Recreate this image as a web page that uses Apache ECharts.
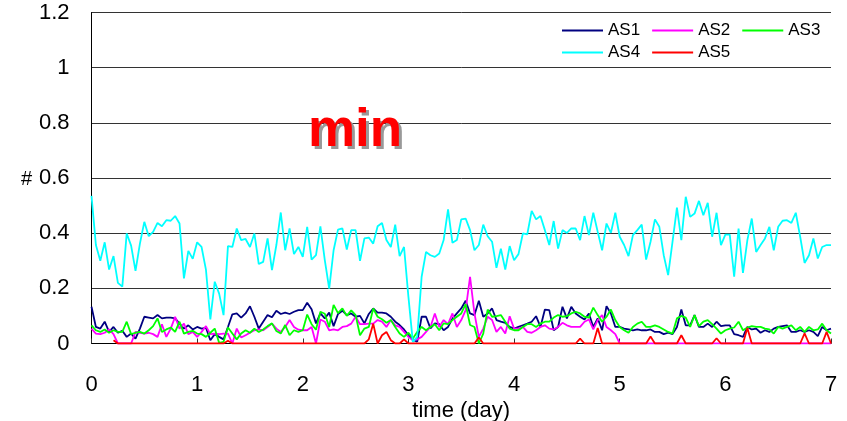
<!DOCTYPE html>
<html>
<head>
<meta charset="utf-8">
<script src="https://cdn.jsdelivr.net/npm/echarts@6/dist/echarts.min.js"></script>
<style>
html,body{margin:0;padding:0;background:#fff;}
#chart{width:847px;height:421px;}
</style>
</head>
<body>
<div id="chart"></div>
<script>
// hourly samples over 7 days (index = hour)
const HOURS_PER_DAY = 24;
const xTicks = [0, 1, 2, 3, 4, 5, 6, 7];
const yTicks = [0, 0.2, 0.4, 0.6, 0.8, 1, 1.2];
const seriesNames = ['AS1', 'AS2', 'AS3', 'AS4', 'AS5'];

const AS1 = [
0.133,0.060,0.054,0.079,0.042,0.060,0.039,0.046,0.024,0.036,
0.018,0.054,0.097,0.094,0.091,0.103,0.091,0.094,0.094,0.091,
0.072,0.054,0.066,0.051,0.060,0.054,0.057,0.012,0.034,0.024,
0.015,0.060,0.106,0.109,0.094,0.109,0.135,0.097,0.054,0.079,
0.103,0.095,0.119,0.107,0.112,0.107,0.115,0.121,0.121,0.148,
0.124,0.073,0.109,0.091,0.112,0.063,0.107,0.119,0.103,0.109,
0.097,0.100,0.073,0.107,0.127,0.112,0.112,0.109,0.097,0.079,
0.067,0.051,0.030,0.013,0.007,0.097,0.097,0.055,0.073,0.070,
0.048,0.060,0.090,0.109,0.127,0.155,0.109,0.103,0.155,0.097,
0.109,0.127,0.085,0.079,0.075,0.060,0.054,0.060,0.066,0.072,
0.079,0.099,0.060,0.123,0.121,0.048,0.060,0.133,0.091,0.133,
0.109,0.097,0.087,0.109,0.060,0.091,0.048,0.135,0.109,0.060,
0.060,0.054,0.051,0.048,0.051,0.048,0.048,0.051,0.042,0.042,
0.034,0.039,0.034,0.060,0.123,0.066,0.066,0.103,0.060,0.060,
0.072,0.060,0.079,0.063,0.066,0.066,0.034,0.030,0.024,0.060,
0.051,0.054,0.039,0.048,0.042,0.054,0.060,0.063,0.066,0.042,
0.042,0.048,0.042,0.048,0.042,0.027,0.060,0.048,0.054
];

const AS2 = [
0.054,0.036,0.034,0.039,0.051,0.034,0.000,0.000,0.000,0.000,
0.042,0.039,0.036,0.039,0.034,0.024,0.070,0.024,0.054,0.097,
0.054,0.072,0.034,0.042,0.024,0.042,0.063,0.034,0.036,0.034,
0.036,0.036,0.000,0.054,0.022,0.030,0.039,0.048,0.051,0.048,
0.060,0.072,0.054,0.042,0.060,0.085,0.060,0.050,0.048,0.048,
0.060,0.000,0.087,0.079,0.048,0.051,0.048,0.060,0.063,0.072,
0.097,0.070,0.070,0.072,0.072,0.085,0.079,0.060,0.085,0.066,
0.060,0.042,0.024,0.012,0.015,0.024,0.042,0.060,0.109,0.060,
0.085,0.070,0.109,0.060,0.085,0.121,0.242,0.109,0.024,0.054,
0.097,0.085,0.042,0.060,0.036,0.099,0.054,0.054,0.060,0.042,
0.039,0.048,0.060,0.066,0.054,0.051,0.060,0.075,0.066,0.060,
0.060,0.060,0.079,0.087,0.051,0.085,0.103,0.060,0.048,0.034,
0,0,0,0,0,0,0,0,0,0,
0,0,0,0,0,0,0,0,0,0,
0,0,0,0,0,0,0,0,0,0,
0,0,0,0,0,0,0,0,0,0,
0,0,0,0,0,0,0,0,0
];

const AS3 = [
0.066,0.048,0.042,0.051,0.039,0.048,0.042,0.042,0.079,0.034,
0.039,0.042,0.036,0.048,0.063,0.091,0.042,0.051,0.058,0.042,
0.079,0.036,0.042,0.046,0.036,0.034,0.024,0.039,0.054,0.002,
0.006,0.058,0.036,0.015,0.036,0.048,0.039,0.054,0.042,0.051,
0.063,0.073,0.045,0.036,0.067,0.030,0.048,0.042,0.048,0.105,
0.070,0.050,0.115,0.108,0.060,0.140,0.110,0.127,0.100,0.120,
0.103,0.030,0.054,0.060,0.127,0.097,0.088,0.075,0.085,0.060,
0.036,0.024,0.039,0.018,0.042,0.060,0.048,0.060,0.070,0.048,
0.073,0.070,0.085,0.097,0.109,0.143,0.067,0.060,0.000,0.036,
0.123,0.097,0.099,0.103,0.079,0.054,0.048,0.048,0.060,0.070,
0.070,0.060,0.072,0.079,0.079,0.094,0.103,0.097,0.099,0.109,
0.115,0.109,0.097,0.094,0.130,0.103,0.079,0.097,0.123,0.085,
0.060,0.048,0.039,0.060,0.072,0.079,0.060,0.060,0.066,0.060,
0.051,0.042,0.036,0.091,0.100,0.094,0.060,0.103,0.063,0.079,
0.085,0.070,0.054,0.036,0.048,0.054,0.058,0.079,0.048,0.058,
0.063,0.060,0.060,0.054,0.051,0.036,0.060,0.054,0.060,0.066,
0.048,0.060,0.042,0.060,0.048,0.051,0.072,0.048,0.036
];

const AS4 = [
0.535,0.357,0.300,0.367,0.268,0.317,0.220,0.206,0.399,0.355,
0.263,0.362,0.441,0.389,0.405,0.437,0.425,0.447,0.445,0.462,
0.435,0.236,0.336,0.307,0.367,0.350,0.268,0.087,0.224,0.181,
0.103,0.353,0.350,0.417,0.375,0.379,0.350,0.399,0.288,0.296,
0.381,0.266,0.357,0.475,0.338,0.417,0.324,0.350,0.314,0.423,
0.304,0.320,0.425,0.302,0.199,0.338,0.413,0.417,0.341,0.411,
0.411,0.300,0.381,0.384,0.362,0.425,0.437,0.375,0.350,0.431,
0.317,0.350,0.169,0.006,0.024,0.242,0.332,0.320,0.314,0.326,
0.375,0.486,0.365,0.375,0.450,0.453,0.411,0.338,0.357,0.431,
0.389,0.369,0.274,0.344,0.268,0.353,0.302,0.324,0.399,0.396,
0.481,0.450,0.462,0.411,0.357,0.444,0.344,0.411,0.401,0.417,
0.417,0.375,0.462,0.393,0.474,0.405,0.338,0.435,0.401,0.474,
0.387,0.357,0.317,0.393,0.411,0.431,0.304,0.369,0.450,0.423,
0.320,0.248,0.369,0.493,0.375,0.532,0.459,0.471,0.517,0.465,
0.510,0.387,0.474,0.357,0.395,0.395,0.242,0.417,0.256,0.375,
0.453,0.332,0.357,0.381,0.423,0.338,0.423,0.445,0.447,0.437,
0.474,0.387,0.292,0.320,0.381,0.308,0.350,0.357,0.357
];

const AS5 = [
null,null,null,null,null,0.012,0,0,0,0,
0,0,0,0,0,0,0,0,0,0,
0,0,0,0,0,0,0,0,0,0,
0,0.010,0,0,0,0,0,0,0,0,
0,0,0,0,0,0,0,0,0,0,
0,0,0,0,0,0,0,0,0,0,
0,0,0,0.015,0.072,0,0.030,0.042,0.012,0,
0,0.015,0,0,0,0,0,0,0,0,
0,0,0,0,0,0,0,0,0.022,0,
0,0,0,0,0,0,0,0,0,0,
0,0,0,0,0,0,0,0,0,0,
0,0.018,0,0,0,0.056,0,0,0,0,
0,0,0,0,0,0,0,0.025,0,0,
0,0,0,0,0.030,0,0,0,0,0,
0,0,0.019,0,0,0,0,0,0,0.056,
0,0,0,0,0,0,0,0,0,0,
0,0,0.037,0,0,0,0,0.042,0
];

const seriesValues = [AS1, AS2, AS3, AS4, AS5];
const seriesColors = ['#000080', '#ff00ff', '#00ff00', '#00ffff', '#ff0000'];

const FONT = '"Liberation Sans", Arial, sans-serif';

function toPairs(arr) {
  return arr.map((v, i) => [i / HOURS_PER_DAY, v]);
}

const chart = echarts.init(document.getElementById('chart'), null, {renderer: 'canvas'});

const series = seriesNames.map((name, k) => ({
  name: name,
  type: 'line',
  data: toPairs(seriesValues[k]),
  showSymbol: false,
  symbol: 'none',
  connectNulls: false,
  lineStyle: {color: seriesColors[k], width: 1.8},
  itemStyle: {color: seriesColors[k]},
  emphasis: {disabled: true},
  animation: false
}));

const legendBase = {
  orient: 'horizontal',
  left: 562,
  padding: 0,
  icon: 'rect',
  itemWidth: 41,
  itemHeight: 2,
  itemGap: 12,
  textStyle: {fontFamily: FONT, fontSize: 17, color: '#000'},
  selectedMode: false
};

const titleStyle = {
  text: 'min', fontFamily: FONT, fontSize: 53, fontWeight: 'bold',
  align: 'center', verticalAlign: 'middle'
};

chart.setOption({
  animation: false,
  backgroundColor: '#fff',
  grid: {left: 91.5, right: 16, top: 12.5, bottom: 77.5, containLabel: false, outerBoundsMode: 'none'},
  legend: [
    Object.assign({}, legendBase, {top: 22, data: seriesNames.slice(0, 3)}),
    Object.assign({}, legendBase, {top: 44, data: seriesNames.slice(3)})
  ],
  xAxis: {
    type: 'value',
    min: xTicks[0],
    max: xTicks[xTicks.length - 1],
    interval: 1,
    name: 'time (day)',
    nameLocation: 'middle',
    nameGap: 52,
    nameTextStyle: {fontFamily: FONT, fontSize: 22, color: '#000'},
    axisLine: {show: true, onZero: false, lineStyle: {color: '#000', width: 1}},
    axisTick: {show: true, inside: true, length: 5, lineStyle: {color: '#333'}},
    axisLabel: {fontFamily: FONT, fontSize: 22, color: '#000', margin: 30},
    splitLine: {show: false}
  },
  yAxis: {
    type: 'value',
    min: yTicks[0],
    max: yTicks[yTicks.length - 1],
    interval: 0.2,
    axisLine: {show: true, lineStyle: {color: '#000', width: 1}},
    axisTick: {show: false},
    axisLabel: {fontFamily: FONT, fontSize: 22, color: '#000', margin: 22},
    splitLine: {show: true, lineStyle: {color: '#333', width: 1}}
  },
  graphic: [
    {
      type: 'text', left: 21, top: 169,
      style: {text: '#', fontFamily: FONT, fontSize: 20, fill: '#000'}
    },
    {
      type: 'text', x: 358, y: 134, z: 10,
      style: Object.assign({}, titleStyle, {fill: '#999999'})
    },
    {
      type: 'text', x: 355, y: 131, z: 11,
      style: Object.assign({}, titleStyle, {fill: '#ff0000'})
    }
  ],
  series: series
});
</script>
</body>
</html>
